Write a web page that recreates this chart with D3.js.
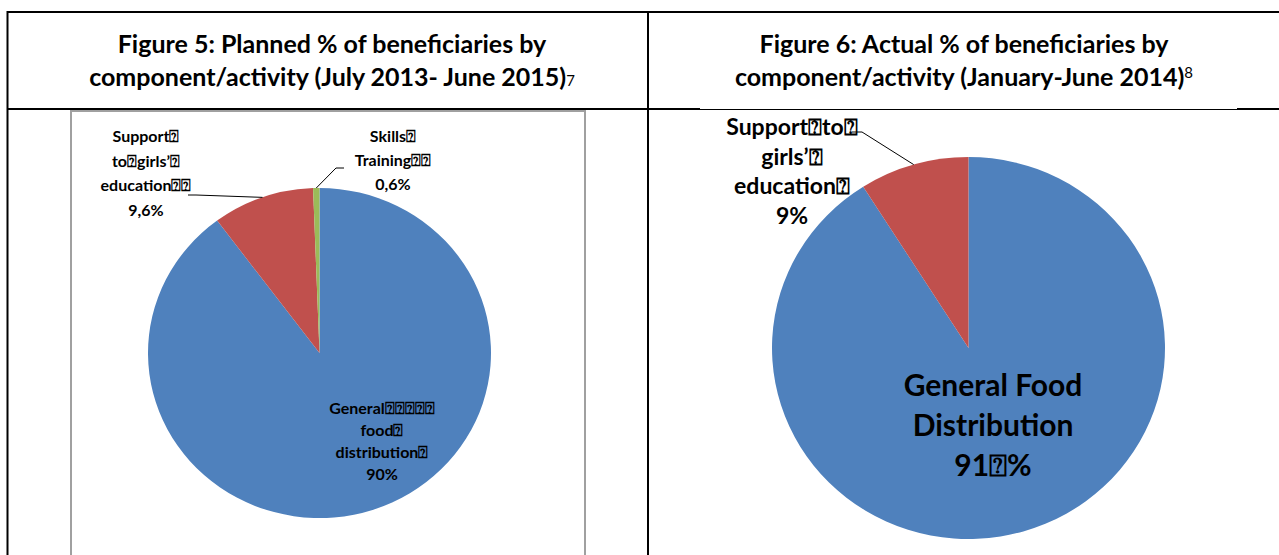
<!DOCTYPE html>
<html>
<head>
<meta charset="utf-8">
<script src="https://d3js.org/d3.v7.min.js"></script>
<style>
  body { margin: 0; background: #fff; }
  text { font-family: Lato, "Open Sans", sans-serif; font-weight: bold; fill: #000; }
</style>
</head>
<body>
<div id="visu"></div>
<script>

// Données : figure 5 (prévu) et figure 6 (réalisé)
var planCats = ["General food distribution", "Support to girls' education", "Skills Training"];
var planVals = [90, 9.6, 0.6];
var planPct = ["90%", "9,6%", "0,6%"];

var realCats = ["General Food Distribution", "Support to girls' education"];
var realVals = [91, 9];
var realPct = ["91⍰%", "9%"];

var titres = [
  ["Figure 5: Planned % of beneficiaries by", "component/activity (July 2013- June 2015)", "7"],
  ["Figure 6: Actual % of beneficiaries by", "component/activity (January-June 2014)", "8"]
];

var couleurs = ["#4F81BD", "#C0504D", "#9BBB59"];

var largeur = 1279, hauteur = 555;

var svg = d3.select("#visu").append("svg")
    .attr("width", largeur)
    .attr("height", hauteur);

// Cadre du tableau
var cadre = svg.append("g").attr("stroke", "#000").attr("stroke-width", 2);
cadre.append("line").attr("x1", 7).attr("x2", largeur).attr("y1", 12).attr("y2", 12);
cadre.append("line").attr("x1", 7.5).attr("x2", 7.5).attr("y1", 11).attr("y2", hauteur);
cadre.append("line").attr("x1", 648).attr("x2", 648).attr("y1", 11).attr("y2", hauteur);
cadre.append("line").attr("x1", 7).attr("x2", 648).attr("y1", 109).attr("y2", 109);
cadre.append("line").attr("x1", 648).attr("x2", 700).attr("y1", 109).attr("y2", 109);
cadre.append("line").attr("x1", 1237).attr("x2", largeur).attr("y1", 109).attr("y2", 109);
svg.append("line").attr("x1", 700).attr("x2", 1237).attr("y1", 109.5).attr("y2", 109.5)
   .attr("stroke", "#000").attr("stroke-width", 1);

// Cadre gris de la zone de graphe de gauche
svg.append("rect").attr("x", 71).attr("y", 111).attr("width", 514).attr("height", 460)
   .attr("fill", "none").attr("stroke", "#a0a0a0").attr("stroke-width", 2);

// Titres
function titre(t, cx) {
  svg.append("text").attr("x", cx).attr("y", 53).attr("text-anchor", "middle")
     .style("font-size", "25px").text(t[0]);
  var l2 = svg.append("text").attr("x", cx).attr("y", 86).attr("text-anchor", "middle")
     .style("font-size", "25px");
  l2.append("tspan").text(t[1]);
  l2.append("tspan").attr("dy", t[2] == "8" ? -8 : 0).style("font-size", "15px")
    .style("font-weight", "normal").text(t[2]);
}
titre(titres[0], 332);
titre(titres[1], 964);

// Camembert (légèrement elliptique comme l'original)
function camembert(vals, cx, cy, rx, ry) {
  var pie = d3.pie().sort(null).value(function(d) { return d; });
  var arcs = pie(vals);
  var arc = d3.arc().innerRadius(0).outerRadius(rx);
  var g = svg.append("g")
     .attr("transform", "translate(" + cx + "," + cy + ") scale(1," + (ry / rx) + ")");
  g.selectAll("path").data(arcs).enter().append("path")
     .attr("d", arc)
     .attr("fill", function(d, i) { return couleurs[i]; });
  // point au bord extérieur, au milieu de chaque part
  return arcs.map(function(d) {
    var a = (d.startAngle + d.endAngle) / 2;
    return [cx + rx * Math.sin(a), cy - ry * Math.cos(a)];
  });
}

var bordsG = camembert(planVals, 319.5, 353, 171.5, 165);
var bordsD = camembert(realVals, 968.5, 348, 196.5, 191);

function etiquette(lignes, cx, y0, pas, taille) {
  var t = svg.append("text").attr("text-anchor", "middle").style("font-size", taille + "px");
  lignes.forEach(function(l, i) {
    t.append("tspan").attr("x", cx).attr("y", y0 + i * pas).text(l);
  });
}

function ligneRepere(pts) {
  svg.append("path").attr("d", d3.line()(pts))
     .attr("fill", "none").attr("stroke", "#000").attr("stroke-width", 1);
}

// Étiquettes figure 5
etiquette(["Support⍰", "to⍰girls’⍰", "education⍰⍰", planPct[1]], 146, 142, 24.5, 16);
etiquette(["Skills⍰", "Training⍰⍰", planPct[2]], 393, 142, 24, 16);
etiquette(["General⍰⍰⍰⍰⍰", "food⍰", "distribution⍰", planPct[0]], 382, 414, 22, 16);
ligneRepere([[188, 195], [196, 195], bordsG[1]]);
ligneRepere([[344, 168], [336, 168], bordsG[2]]);

// Étiquettes figure 6
etiquette(["Support⍰to⍰", "girls’⍰", "education⍰", realPct[1]], 792, 135, 29.5, 23);
etiquette(["General Food", "Distribution", realPct[0]], 993, 396, 40, 30);
ligneRepere([[852, 132], [862, 132], bordsD[1]]);

</script>
</body>
</html>
